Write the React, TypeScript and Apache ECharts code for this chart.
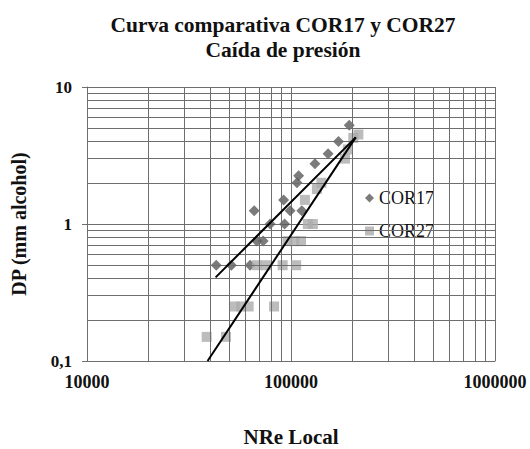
import React, { useEffect, useRef } from "react";
import * as echarts from "echarts";

const cor17X = [43000, 51000, 63000, 68000, 73000, 66000, 79000, 93000, 92000, 99000, 113000, 107000, 109000, 131000, 152000, 171000, 193000];
const cor17Y = [0.5, 0.5, 0.5, 0.75, 0.75, 1.25, 1.0, 1.0, 1.5, 1.25, 1.25, 2.0, 2.25, 2.75, 3.25, 4.0, 5.25];

const cor27X = [38600, 48000, 53000, 57000, 62000, 82600, 68000, 75500, 91000, 106000, 96000, 104000, 112000, 121000, 128000, 117000, 134000, 141000, 184000, 190000, 202000, 214000];
const cor27Y = [0.15, 0.15, 0.25, 0.25, 0.25, 0.25, 0.5, 0.5, 0.5, 0.5, 0.75, 0.75, 0.75, 1.0, 1.0, 1.5, 1.8, 2.0, 3.0, 3.5, 4.25, 4.5];

const trend17X = [42700, 207600];
const trend17Y = [0.408, 4.29];
const trend27X = [39000, 207600];
const trend27Y = [0.1, 4.29];

const xMinorGrid = [20000, 30000, 40000, 50000, 60000, 70000, 80000, 90000, 200000, 300000, 400000, 500000, 600000, 700000, 800000, 900000];
const yMinorGrid = [0.2, 0.3, 0.4, 0.5, 0.6, 0.7, 0.8, 0.9, 2, 3, 4, 5, 6, 7, 8, 9];

const TITLE_1 = "Curva comparativa COR17 y COR27";
const TITLE_2 = "Caída de presión";
const X_NAME = "NRe Local";
const Y_NAME = "DP (mm alcohol)";

const SERIF = "'Liberation Serif', 'Times New Roman', serif";
const GRID_COLOR = "#6e6e6e";

function pairs(xs: number[], ys: number[]) {
  return xs.map((x, i) => [x, ys[i]]);
}

export default function App() {
  const ref = useRef<HTMLDivElement>(null);
  useEffect(() => {
    if (!ref.current) return;
    const chart = echarts.init(ref.current, null, { renderer: "svg" });
    const minorLines = [
      ...xMinorGrid.map((v) => ({ xAxis: v })),
      ...yMinorGrid.map((v) => ({ yAxis: v })),
    ];
    chart.setOption({
      animation: false,
      backgroundColor: "#ffffff",
      textStyle: { fontFamily: SERIF },
      title: [
        {
          text: TITLE_1 + "\n" + TITLE_2,
          left: 278,
          top: 7,
          textAlign: "center",
          textStyle: { fontFamily: SERIF, fontSize: 21.5, fontWeight: "bold", color: "#111", lineHeight: 25 },
        },
      ],
      grid: { left: 87, top: 87, width: 408, height: 274, outerBoundsMode: "none", containLabel: false },
      legend: {
        orient: "vertical",
        left: 360,
        top: 184,
        itemWidth: 9,
        itemHeight: 9,
        itemGap: 15,
        selectedMode: false,
        textStyle: { fontFamily: SERIF, fontSize: 18, color: "#111" },
        data: [
          { name: "COR17", icon: "diamond" },
          { name: "COR27", icon: "rect" },
        ],
      },
      xAxis: {
        type: "log",
        logBase: 10,
        min: 10000,
        max: 1000000,
        name: X_NAME,
        nameLocation: "middle",
        nameGap: 65,
        nameTextStyle: { fontFamily: SERIF, fontSize: 21, fontWeight: "bold", color: "#111" },
        axisLine: { show: true, lineStyle: { color: GRID_COLOR } },
        axisTick: { show: false },
        axisLabel: {
          margin: 12,
          fontFamily: SERIF,
          fontSize: 18,
          fontWeight: "bold",
          color: "#111",
          formatter: (v: number) => String(Math.round(v)),
        },
        splitLine: { show: true, lineStyle: { color: GRID_COLOR, width: 1 } },
      },
      yAxis: {
        type: "log",
        logBase: 10,
        min: 0.1,
        max: 10,
        name: Y_NAME,
        nameLocation: "middle",
        nameRotate: 90,
        nameGap: 58,
        nameTextStyle: { fontFamily: SERIF, fontSize: 20, fontWeight: "bold", color: "#111" },
        axisLine: { show: true, lineStyle: { color: GRID_COLOR } },
        axisTick: { show: true, length: 5, lineStyle: { color: GRID_COLOR } },
        axisLabel: {
          margin: 15,
          fontFamily: SERIF,
          fontSize: 17,
          fontWeight: "bold",
          color: "#111",
          formatter: (v: number) => String(Math.round(v * 10) / 10).replace(".", ","),
        },
        splitLine: { show: true, lineStyle: { color: GRID_COLOR, width: 1 } },
      },
      series: [
        {
          name: "minor-grid",
          type: "scatter",
          data: [],
          z: 1,
          silent: true,
          markLine: {
            silent: true,
            symbol: ["none", "none"],
            label: { show: false },
            lineStyle: { color: GRID_COLOR, width: 1, type: "solid" },
            emphasis: { disabled: true },
            data: minorLines,
          },
        },
        {
          name: "COR17",
          type: "scatter",
          symbol: "diamond",
          symbolSize: 11,
          itemStyle: { color: "#5a5a5a" },
          data: pairs(cor17X, cor17Y),
          z: 3,
        },
        {
          name: "COR27",
          type: "scatter",
          symbol: "rect",
          symbolSize: 10,
          itemStyle: { color: "#ababab" },
          data: pairs(cor27X, cor27Y),
          z: 4,
        },
        {
          name: "trend17",
          type: "line",
          symbol: "none",
          lineStyle: { color: "#000", width: 2 },
          data: pairs(trend17X, trend17Y),
          z: 5,
          silent: true,
        },
        {
          name: "trend27",
          type: "line",
          symbol: "none",
          lineStyle: { color: "#000", width: 2 },
          data: pairs(trend27X, trend27Y),
          z: 5,
          silent: true,
        },
      ],
    });
    return () => chart.dispose();
  }, []);
  return (
    <div
      ref={ref}
      style={{ position: "fixed", left: 0, top: 0, width: 530, height: 449, background: "#fff" }}
    />
  );
}
